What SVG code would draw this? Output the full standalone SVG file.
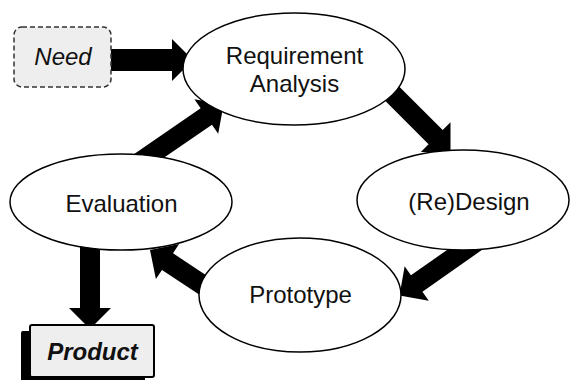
<svg xmlns="http://www.w3.org/2000/svg" width="570" height="380" viewBox="0 0 570 380">
  <style>
    .node ellipse { fill: #ffffff; stroke: #000000; stroke-width: 1.5; }
    .label { font-family: "Liberation Sans", Arial, sans-serif; font-size: 24px; fill: #111111; text-anchor: middle; }
    .arrow { fill: #000000; stroke: none; }
  </style>
  <rect width="570" height="380" fill="#ffffff"/>

  <!-- block arrows (drawn first so the nodes cover their ends) -->
  <g id="connectors">
    <polygon class="arrow" points="105,49 172,49 172,39 193,60 172,81 172,71 105,71"/>
    <polygon class="arrow" points="387.07,74.43 442.72,130.08 450.5,122.3 450.5,152 420.8,152 428.58,144.22 372.93,88.57"/>
    <polygon class="arrow" points="487.14,246.29 422.44,291.64 428.75,300.65 399.5,295.5 404.65,266.25 410.96,275.26 475.66,229.91"/>
    <polygon class="arrow" points="234.7,294.2 173.02,253.26 179.1,244.09 150,250 155.9,279.1 161.98,269.94 223.7,310.8"/>
    <polygon class="arrow" points="138.7,175.1 211.96,124.74 218.2,133.8 223.6,104.6 194.4,99.2 200.64,108.26 127.3,158.7"/>
    <polygon class="arrow" points="80,240 80,308 69,308 90,329 111,308 100,308 100,240"/>
  </g>

  <g id="need">
    <rect x="14" y="27" width="97" height="60" rx="8" ry="8" fill="#eeeeee" stroke="#333333" stroke-width="1.5" stroke-dasharray="5 3"/>
    <text class="label" x="63" y="65" font-style="italic">Need</text>
  </g>

  <g id="requirement-analysis" class="node">
    <ellipse cx="294" cy="69" rx="111" ry="56"/>
    <text class="label" x="294.5" y="64">Requirement</text>
    <text class="label" x="294.5" y="92">Analysis</text>
  </g>

  <g id="redesign" class="node">
    <ellipse cx="463" cy="200" rx="106" ry="50"/>
    <text class="label" x="469" y="210">(Re)Design</text>
  </g>

  <g id="prototype" class="node">
    <ellipse cx="300" cy="295" rx="101" ry="57"/>
    <text class="label" x="300.5" y="303">Prototype</text>
  </g>

  <g id="evaluation" class="node">
    <ellipse cx="121" cy="202" rx="111" ry="48"/>
    <text class="label" x="121.5" y="212">Evaluation</text>
  </g>

  <g id="product">
    <rect x="21" y="331" width="124" height="55" rx="2" fill="#000000"/>
    <rect x="30" y="325" width="124" height="52" rx="2" fill="#eeeeee" stroke="#000000" stroke-width="2"/>
    <text class="label" x="92.5" y="360" font-style="italic" font-weight="bold">Product</text>
  </g>
</svg>
